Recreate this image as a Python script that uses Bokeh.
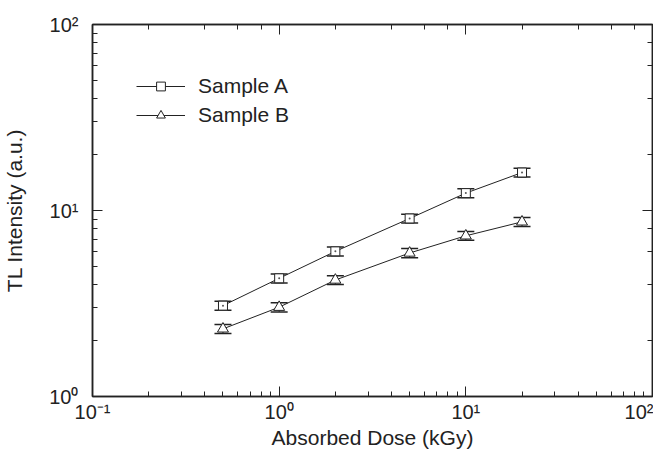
from bokeh.plotting import figure
from bokeh.models import (ColumnDataSource, Whisker, TeeHead, LogAxis, LogTicker,
                          CustomJSTickFormatter, Legend)
from bokeh.embed import file_html
from bokeh.resources import INLINE

# ---- data ----
dose = [0.5, 1, 2, 5, 10, 20]
sample_a = [3.08, 4.32, 6.03, 9.06, 12.4, 16.0]
sample_a_err = [0.17, 0.24, 0.33, 0.50, 0.68, 0.88]
sample_b = [2.31, 3.02, 4.23, 5.91, 7.31, 8.69]
sample_b_err = [0.13, 0.17, 0.23, 0.33, 0.40, 0.48]

FONT = "Liberation Sans"
INK = "#222222"

src_a = ColumnDataSource(dict(
    x=dose, y=sample_a,
    lo=[v - e for v, e in zip(sample_a, sample_a_err)],
    hi=[v + e for v, e in zip(sample_a, sample_a_err)],
))
src_b = ColumnDataSource(dict(
    x=dose, y=sample_b,
    lo=[v - e for v, e in zip(sample_b, sample_b_err)],
    hi=[v + e for v, e in zip(sample_b, sample_b_err)],
))

p = figure(width=653, height=451, x_axis_type="log", y_axis_type="log",
           x_range=(0.1, 100), y_range=(1, 100),
           output_backend="svg", toolbar_location=None,
           min_border_left=92, min_border_right=1,
           min_border_top=24, min_border_bottom=53)
p.xgrid.visible = False
p.ygrid.visible = False
p.outline_line_color = INK
p.outline_line_width = 1.5
p.background_fill_color = "white"
p.border_fill_color = "white"

sup_code = """
const m = {"-1": "\u207b\u00b9", "0": "\u2070", "1": "\u00b9", "2": "\u00b2"};
const e = Math.round(Math.log10(tick));
return "10" + (m[String(e)] || String(e));
"""

def style_axis(ax):
    ax.axis_line_color = INK
    ax.axis_line_width = 1.5
    ax.major_tick_line_color = INK
    ax.minor_tick_line_color = INK
    ax.major_tick_line_width = 1
    ax.minor_tick_line_width = 1
    ax.major_tick_in = 10
    ax.major_tick_out = 0
    ax.minor_tick_in = 5
    ax.minor_tick_out = 0
    ax.major_label_text_font = FONT
    ax.major_label_text_font_size = "20px"
    ax.major_label_text_color = INK
    ax.axis_label_text_font = FONT
    ax.axis_label_text_font_size = "21px"
    ax.axis_label_text_font_style = "normal"
    ax.axis_label_text_color = INK

for ax in (p.xaxis[0], p.yaxis[0]):
    style_axis(ax)
    ax.formatter = CustomJSTickFormatter(code=sup_code)

p.xaxis.axis_label = "Absorbed Dose (kGy)"
p.yaxis.axis_label = "TL Intensity (a.u.)"
p.xaxis.major_label_standoff = 4
p.xaxis.axis_label_standoff = 0
p.yaxis.major_label_standoff = 14
p.yaxis.axis_label_standoff = 20

for side in ("above", "right"):
    ax = LogAxis(ticker=LogTicker(), formatter=CustomJSTickFormatter(code="return '';"))
    style_axis(ax)
    ax.major_label_standoff = 0
    p.add_layout(ax, side)

head = dict(size=17, line_color=INK, line_width=1.5)
for src in (src_a, src_b):
    w = Whisker(source=src, base="x", lower="lo", upper="hi", dimension="height",
                line_color=INK, line_width=1,
                lower_head=TeeHead(**head), upper_head=TeeHead(**head),
                level="underlay")
    p.add_layout(w)

la = p.line("x", "y", source=src_a, line_color=INK, line_width=1)
ma = p.scatter("x", "y", source=src_a, marker="square", size=9,
               fill_color="white", line_color=INK, line_width=1)
da = p.scatter("x", "y", source=src_a, marker="circle", size=2,
               fill_color="#555555", line_color=None)
lb = p.line("x", "y", source=src_b, line_color=INK, line_width=1)
mb = p.scatter("x", "y", source=src_b, marker="triangle", size=11,
               fill_color="white", line_color=INK, line_width=1)

legend = Legend(items=[("Sample A", [la, ma]), ("Sample B", [lb, mb])],
                location=(44, 269), orientation="vertical",
                glyph_width=49, glyph_height=22, label_height=22,
                label_standoff=13, spacing=5, padding=0, margin=0,
                border_line_color=None, background_fill_alpha=0,
                label_text_font=FONT, label_text_font_size="21px",
                label_text_color=INK)
p.add_layout(legend, "center")

open("out.html", "w").write(file_html(p, INLINE))
